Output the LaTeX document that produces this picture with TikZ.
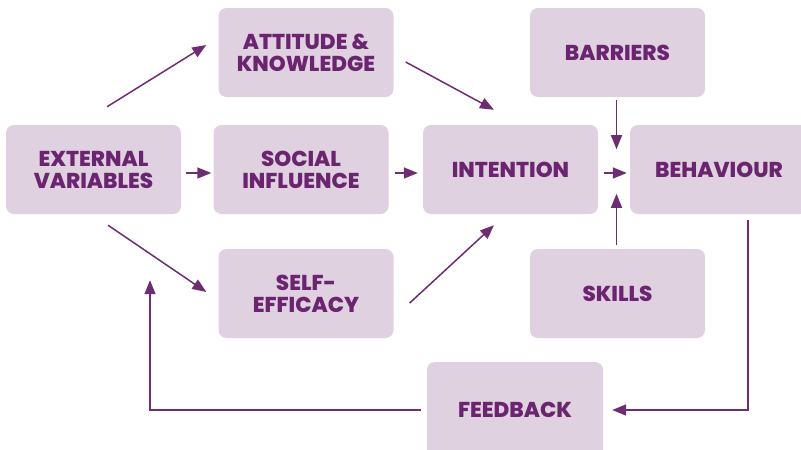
\documentclass[tikz,border=0pt]{standalone}
\usepackage{fontspec}
\setmainfont{Poppins}[BoldFont={Poppins ExtraBold}]
\usetikzlibrary{arrows.meta}
\definecolor{boxfill}{HTML}{E0D1E0}
\definecolor{ink}{HTML}{6B2570}
\definecolor{linecol}{HTML}{6E2C72}
\tikzset{
  box/.style={fill=boxfill, rounded corners=8pt, inner sep=0pt, align=center,
    text=ink, font=\fontsize{21.5}{22}\selectfont\bfseries,
    minimum width=175pt, minimum height=89pt},
  arr/.style={draw=linecol, line width=1.5pt, -{Triangle[length=14pt,width=11pt]}},
}
\begin{document}
\begin{tikzpicture}[x=1pt,y=-1pt]
\useasboundingbox (0,0) rectangle (801,450);
\node[box] (ext) at (93.5,169.5) {EXTERNAL\\VARIABLES};
\node[box] (att) at (306,52.5) {ATTITUDE \&\\KNOWLEDGE};
\node[box] (soc) at (301,169.5) {SOCIAL\\INFLUENCE};
\node[box] (self) at (306,293.5) {SELF-\\EFFICACY};
\node[box] (int) at (510.5,169.5) {INTENTION};
\node[box] (bar) at (617.5,52.5) {BARRIERS};
\node[box, minimum width=178pt] (beh) at (719,169.5) {BEHAVIOUR};
\node[box] (skl) at (617.5,293.5) {SKILLS};
\node[box, minimum width=176pt, minimum height=96pt] (fb) at (515,410) {FEEDBACK};
% connectors
\draw[arr] ([shift={(13.5pt,18pt)}]ext.north) -- ([shift={(-12pt,7.5pt)}]att.west);
\draw[arr] ([shift={(5pt,-3.5pt)}]ext.east) -- ([shift={(-2pt,-3.5pt)}]soc.west);
\draw[arr] ([shift={(14.5pt,-11pt)}]ext.south) -- ([shift={(-12pt,1.5pt)}]self.west);
\draw[arr] ([shift={(12pt,-9.5pt)}]att.east) -- ([shift={(-16.5pt,15pt)}]int.north);
\draw[arr] ([shift={(6pt,-3.5pt)}]soc.east) -- ([shift={(-5pt,-3.5pt)}]int.west);
\draw[arr] ([shift={(16pt,-9.5pt)}]self.east) -- ([shift={(-16.5pt,-11pt)}]int.south);
\draw[arr] ([shift={(6pt,-3.5pt)}]int.east) -- ([shift={(-3pt,-3.5pt)}]beh.west);
\draw[arr] ([shift={(-1pt,-3pt)}]bar.south) -- ([shift={(-1pt,-52pt)}]bar.south);
\draw[arr] ([shift={(-1pt,4pt)}]skl.north) -- ([shift={(-1pt,55pt)}]skl.north);
\draw[arr] ([shift={(29pt,-6pt)}]beh.south) |- ([xshift=9pt]fb.east);
\draw[arr] ([xshift=-6pt]fb.west) -| ([shift={(56.5pt,-66pt)}]ext.south);
\end{tikzpicture}
\end{document}
